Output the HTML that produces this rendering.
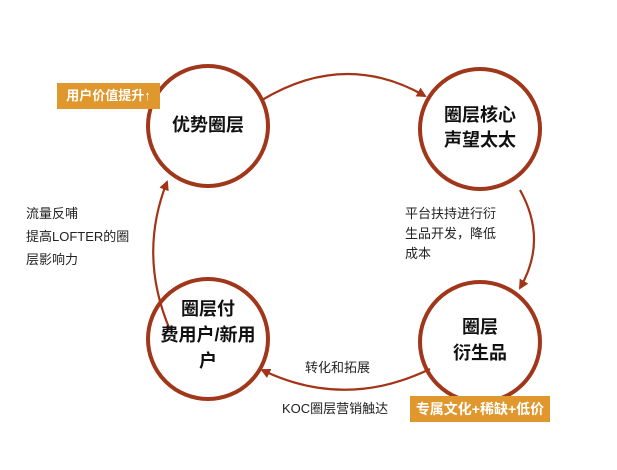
<!DOCTYPE html>
<html><head><meta charset="utf-8"><style>
body{margin:0;background:#fff;width:617px;height:470px;overflow:hidden;position:relative;font-family:"Liberation Sans","Noto Sans CJK SC",sans-serif;}
.t{position:absolute;color:#222;font-size:13px;line-height:20px;white-space:nowrap}
.c{position:absolute;font-size:18px;font-weight:bold;color:#111;text-align:center;line-height:27px;white-space:nowrap}
.box{position:absolute;background:#e0972e;color:#fff;font-weight:bold;font-size:13px;line-height:26px;white-space:nowrap;text-align:center}
</style></head><body>
<svg width="617" height="470" style="position:absolute;left:0;top:0">
<defs><marker id="a" markerWidth="10" markerHeight="10" refX="8" refY="5" orient="auto" markerUnits="userSpaceOnUse"><path d="M0,0 L10,5 L0,10 z" fill="#a33418"/></marker></defs>
<g fill="none" stroke="#a0361a" stroke-width="4">
<circle cx="208" cy="126" r="60"/>
<circle cx="480" cy="129" r="60"/>
<circle cx="480" cy="342" r="60"/>
<circle cx="208" cy="339" r="60"/>
</g>
<g fill="none" stroke="#a33418" stroke-width="2.2">
<path d="M262,100 Q345,50 425,96" marker-end="url(#a)"/>
<path d="M520,190 Q548,240 520,288" marker-end="url(#a)"/>
<path d="M430,369 Q345,410 262,370" marker-end="url(#a)"/>
<path d="M170,330 Q138,255 167,182" marker-end="url(#a)"/>
</g>
</svg>
<div class="box" style="left:57px;top:83px;width:103px;height:26px">用户价值提升↑</div>
<div class="box" style="left:410px;top:396px;width:140px;height:26px;font-size:14px">专属文化+稀缺+低价</div>
<div class="c" style="left:148px;top:112px;width:120px">优势圈层</div>
<div class="c" style="left:420px;top:103px;width:120px;line-height:25px">圈层核心<br>声望太太</div>
<div class="c" style="left:420px;top:314px;width:120px;line-height:26px">圈层<br>衍生品</div>
<div class="c" style="left:148px;top:296px;width:120px;line-height:26px">圈层付<br>费用户/新用<br>户</div>
<div class="t" style="left:405px;top:204px">平台扶持进行衍<br>生品开发，降低<br>成本</div>
<div class="t" style="left:26px;top:202px;line-height:23px">流量反哺<br>提高LOFTER的圈<br>层影响力</div>
<div class="t" style="left:305px;top:358px">转化和拓展</div>
<div class="t" style="left:282px;top:399px">KOC圈层营销触达</div>
</body></html>
